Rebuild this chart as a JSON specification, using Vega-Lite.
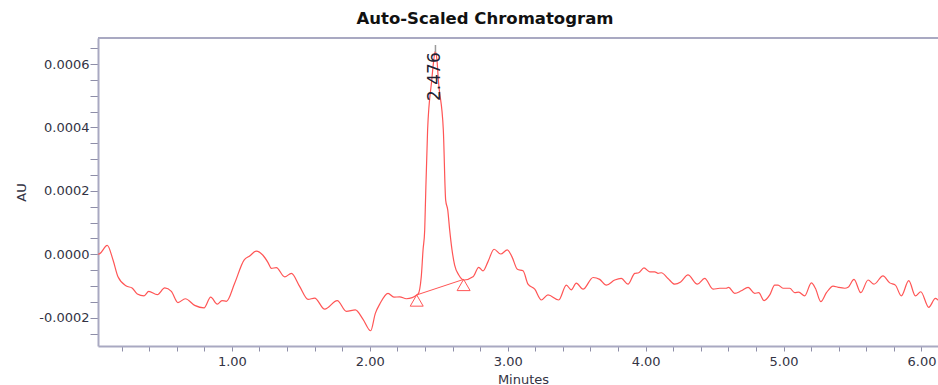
{
  "$schema": "https://vega.github.io/schema/vega-lite/v6.json",
  "autosize": {"type": "none"},
  "padding": {"left": 98, "top": 38, "right": 0, "bottom": 39},
  "width": 840,
  "height": 308,
  "background": "white",
  "view": {"stroke": "transparent", "strokeWidth": 0},
  "title": {
    "text": "Auto-Scaled Chromatogram",
    "font": "DejaVu Sans",
    "fontSize": 16.5,
    "fontWeight": "bold",
    "color": "#111111",
    "anchor": "middle",
    "frame": "group",
    "dx": -33,
    "offset": 10
  },
  "config": {
    "view": {"stroke": "transparent", "strokeWidth": 0},
    "style": {"cell": {"stroke": "transparent", "strokeWidth": 0}},
    "axis": {"grid": false}
  },
  "datasets": {
    "trace": [
      {"t": 0.030, "au": 0.000000},
      {"t": 0.044, "au": 0.000003},
      {"t": 0.096, "au": 0.000028},
      {"t": 0.138, "au": -0.000018},
      {"t": 0.174, "au": -0.000071},
      {"t": 0.234, "au": -0.000100},
      {"t": 0.276, "au": -0.000106},
      {"t": 0.314, "au": -0.000125},
      {"t": 0.363, "au": -0.000131},
      {"t": 0.397, "au": -0.000117},
      {"t": 0.459, "au": -0.000127},
      {"t": 0.513, "au": -0.000106},
      {"t": 0.561, "au": -0.000117},
      {"t": 0.609, "au": -0.000152},
      {"t": 0.662, "au": -0.000140},
      {"t": 0.730, "au": -0.000161},
      {"t": 0.798, "au": -0.000169},
      {"t": 0.846, "au": -0.000135},
      {"t": 0.894, "au": -0.000157},
      {"t": 0.928, "au": -0.000146},
      {"t": 0.960, "au": -0.000148},
      {"t": 1.020, "au": -0.000091},
      {"t": 1.088, "au": -0.000018},
      {"t": 1.129, "au": -0.000005},
      {"t": 1.177, "au": 0.000010},
      {"t": 1.225, "au": -0.000003},
      {"t": 1.262, "au": -0.000026},
      {"t": 1.286, "au": -0.000044},
      {"t": 1.322, "au": -0.000042},
      {"t": 1.383, "au": -0.000071},
      {"t": 1.431, "au": -0.000060},
      {"t": 1.492, "au": -0.000102},
      {"t": 1.552, "au": -0.000142},
      {"t": 1.600, "au": -0.000138},
      {"t": 1.673, "au": -0.000173},
      {"t": 1.764, "au": -0.000146},
      {"t": 1.830, "au": -0.000180},
      {"t": 1.895, "au": -0.000175},
      {"t": 1.951, "au": -0.000205},
      {"t": 2.006, "au": -0.000241},
      {"t": 2.040, "au": -0.000186},
      {"t": 2.072, "au": -0.000157},
      {"t": 2.132, "au": -0.000123},
      {"t": 2.175, "au": -0.000135},
      {"t": 2.217, "au": -0.000134},
      {"t": 2.265, "au": -0.000140},
      {"t": 2.350, "au": -0.000125},
      {"t": 2.373, "au": -0.000071},
      {"t": 2.386, "au": 0.000014},
      {"t": 2.398, "au": 0.000077},
      {"t": 2.402, "au": 0.000140},
      {"t": 2.419, "au": 0.000392},
      {"t": 2.449, "au": 0.000549},
      {"t": 2.462, "au": 0.000606},
      {"t": 2.474, "au": 0.000640},
      {"t": 2.487, "au": 0.000612},
      {"t": 2.497, "au": 0.000549},
      {"t": 2.533, "au": 0.000392},
      {"t": 2.550, "au": 0.000171},
      {"t": 2.565, "au": 0.000140},
      {"t": 2.579, "au": 0.000077},
      {"t": 2.596, "au": 0.000014},
      {"t": 2.615, "au": -0.000034},
      {"t": 2.645, "au": -0.000065},
      {"t": 2.683, "au": -0.000081},
      {"t": 2.748, "au": -0.000071},
      {"t": 2.790, "au": -0.000041},
      {"t": 2.821, "au": -0.000052},
      {"t": 2.857, "au": -0.000023},
      {"t": 2.901, "au": 0.000016},
      {"t": 2.949, "au": 0.000001},
      {"t": 2.997, "au": 0.000014},
      {"t": 3.031, "au": -0.000008},
      {"t": 3.070, "au": -0.000047},
      {"t": 3.111, "au": -0.000052},
      {"t": 3.147, "au": -0.000094},
      {"t": 3.196, "au": -0.000110},
      {"t": 3.244, "au": -0.000144},
      {"t": 3.292, "au": -0.000128},
      {"t": 3.370, "au": -0.000144},
      {"t": 3.425, "au": -0.000097},
      {"t": 3.461, "au": -0.000112},
      {"t": 3.497, "au": -0.000091},
      {"t": 3.546, "au": -0.000110},
      {"t": 3.619, "au": -0.000073},
      {"t": 3.667, "au": -0.000079},
      {"t": 3.715, "au": -0.000097},
      {"t": 3.776, "au": -0.000081},
      {"t": 3.824, "au": -0.000076},
      {"t": 3.872, "au": -0.000094},
      {"t": 3.921, "au": -0.000060},
      {"t": 3.950, "au": -0.000058},
      {"t": 3.988, "au": -0.000043},
      {"t": 4.030, "au": -0.000055},
      {"t": 4.066, "au": -0.000055},
      {"t": 4.090, "au": -0.000060},
      {"t": 4.114, "au": -0.000058},
      {"t": 4.162, "au": -0.000076},
      {"t": 4.211, "au": -0.000094},
      {"t": 4.254, "au": -0.000087},
      {"t": 4.307, "au": -0.000065},
      {"t": 4.375, "au": -0.000094},
      {"t": 4.428, "au": -0.000076},
      {"t": 4.489, "au": -0.000110},
      {"t": 4.537, "au": -0.000107},
      {"t": 4.585, "au": -0.000107},
      {"t": 4.602, "au": -0.000104},
      {"t": 4.646, "au": -0.000123},
      {"t": 4.694, "au": -0.000115},
      {"t": 4.743, "au": -0.000104},
      {"t": 4.791, "au": -0.000123},
      {"t": 4.820, "au": -0.000121},
      {"t": 4.859, "au": -0.000146},
      {"t": 4.900, "au": -0.000128},
      {"t": 4.936, "au": -0.000097},
      {"t": 4.960, "au": -0.000097},
      {"t": 4.996, "au": -0.000107},
      {"t": 5.045, "au": -0.000107},
      {"t": 5.081, "au": -0.000121},
      {"t": 5.110, "au": -0.000119},
      {"t": 5.153, "au": -0.000131},
      {"t": 5.202, "au": -0.000090},
      {"t": 5.231, "au": -0.000107},
      {"t": 5.270, "au": -0.000149},
      {"t": 5.311, "au": -0.000121},
      {"t": 5.359, "au": -0.000100},
      {"t": 5.396, "au": -0.000104},
      {"t": 5.444, "au": -0.000107},
      {"t": 5.468, "au": -0.000104},
      {"t": 5.511, "au": -0.000079},
      {"t": 5.560, "au": -0.000121},
      {"t": 5.613, "au": -0.000081},
      {"t": 5.656, "au": -0.000094},
      {"t": 5.721, "au": -0.000068},
      {"t": 5.770, "au": -0.000090},
      {"t": 5.811, "au": -0.000097},
      {"t": 5.854, "au": -0.000131},
      {"t": 5.908, "au": -0.000083},
      {"t": 5.956, "au": -0.000131},
      {"t": 5.995, "au": -0.000118},
      {"t": 6.053, "au": -0.000167},
      {"t": 6.101, "au": -0.000139},
      {"t": 6.125, "au": -0.000146}
    ],
    "baseline": [
      {"t": 2.340, "au": -0.000128},
      {"t": 2.680, "au": -0.000079}
    ],
    "peak": [
      {"t": 2.476, "au": 0.000637, "top": 0.000660, "rt": "2.476"}
    ],
    "frameTop": [
      {"t": 0.029, "t2": 6.12, "au": 0.000682}
    ]
  },
  "encoding": {
    "x": {
      "field": "t",
      "type": "quantitative",
      "scale": {"domain": [0.029, 6.12], "nice": false, "zero": false},
      "axis": {
        "orient": "bottom",
        "title": "Minutes",
        "values": [0.2, 0.4, 0.6, 0.8, 1, 1.2, 1.4, 1.6, 1.8, 2, 2.2, 2.4, 2.6, 2.8, 3, 3.2, 3.4, 3.6, 3.8, 4, 4.2, 4.4, 4.6, 4.8, 5, 5.2, 5.4, 5.6, 5.8, 6],
        "tickCount": 100,
        "labelExpr": "abs(datum.value - round(datum.value)) < 0.001 ? format(datum.value, '.2f') : ''",
        "labelOverlap": false,
        "labelFlush": false,
        "labelFont": "DejaVu Sans",
        "labelFontSize": 13,
        "labelColor": "#333344",
        "labelPadding": 4,
        "tickSize": 5,
        "tickColor": "#8e8ea8",
        "tickWidth": 1,
        "domainColor": "#a9a9c2",
        "domainWidth": 2,
        "titleFont": "DejaVu Sans",
        "titleFontSize": 13,
        "titleFontWeight": "normal",
        "titleColor": "#333344",
        "titleX": 425,
        "titleY": 27,
        "titleBaseline": "top"
      }
    },
    "y": {
      "field": "au",
      "type": "quantitative",
      "scale": {"domain": [-0.000289, 0.000682], "nice": false, "zero": false},
      "axis": {
        "orient": "left",
        "title": "AU",
        "values": [-0.00025, -0.0002, -0.00015, -0.0001, -0.00005, 0, 0.00005, 0.0001, 0.00015, 0.0002, 0.00025, 0.0003, 0.00035, 0.0004, 0.00045, 0.0005, 0.00055, 0.0006, 0.00065],
        "tickCount": 100,
        "labelExpr": "abs(datum.value * 5000 - round(datum.value * 5000)) < 0.001 ? (datum.value < 0 ? '-' : '') + format(abs(datum.value), '.4f') : ''",
        "labelOverlap": false,
        "labelFlush": false,
        "labelFont": "DejaVu Sans",
        "labelFontSize": 13,
        "labelColor": "#333344",
        "labelPadding": 1,
        "tickSize": 8,
        "tickColor": "#8e8ea8",
        "tickWidth": 1,
        "domainColor": "#a9a9c2",
        "domainWidth": 2,
        "titleFont": "DejaVu Sans",
        "titleFontSize": 13,
        "titleFontWeight": "normal",
        "titleColor": "#333344",
        "titleAngle": -90,
        "titleX": -73,
        "titleY": 154,
        "titleAlign": "center",
        "titleBaseline": "alphabetic",
        "encode": {
          "ticks": {
            "update": {
              "x2": {"signal": "abs(datum.value * 5000 - round(datum.value * 5000)) < 0.001 ? -8 : -4"}
            }
          }
        }
      }
    }
  },
  "layer": [
    {
      "data": {"name": "trace"},
      "mark": {"type": "line", "color": "#ff5555", "strokeWidth": 1.2, "interpolate": "monotone", "clip": true}
    },
    {
      "data": {"name": "baseline"},
      "mark": {"type": "line", "color": "#ff5555", "strokeWidth": 1}
    },
    {
      "data": {"name": "baseline"},
      "mark": {"type": "point", "shape": "triangle-up", "filled": false, "stroke": "#ff5555", "strokeWidth": 1, "size": 169, "yOffset": 5.6, "opacity": 1}
    },
    {
      "data": {"name": "peak"},
      "mark": {"type": "rule", "color": "#9a9a9a", "strokeWidth": 1.5},
      "encoding": {
        "y2": {"field": "top"}
      }
    },
    {
      "data": {"name": "peak"},
      "mark": {"type": "text", "angle": 270, "align": "right", "baseline": "middle", "font": "DejaVu Sans", "fontSize": 17, "color": "#222233"},
      "encoding": {
        "text": {"field": "rt"}
      }
    },
    {
      "data": {"name": "frameTop"},
      "mark": {"type": "rule", "color": "#a9a9c2", "strokeWidth": 2},
      "encoding": {
        "x2": {"field": "t2"}
      }
    }
  ]
}
